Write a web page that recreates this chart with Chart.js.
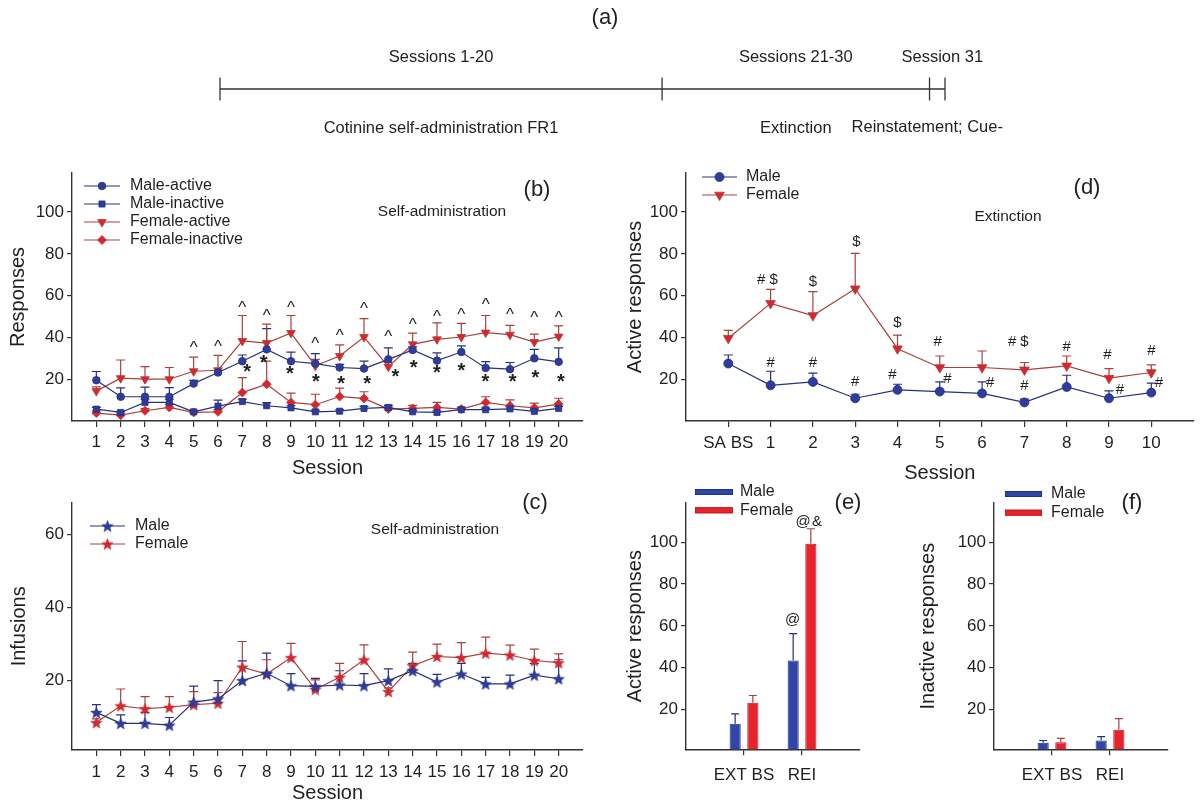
<!DOCTYPE html>
<html lang="en">
<head>
<meta charset="utf-8">
<title>Cotinine self-administration, extinction and reinstatement</title>
<script src="https://cdn.jsdelivr.net/npm/chart.js@4.4.1/dist/chart.umd.min.js"></script>
<style>
  html, body { margin: 0; padding: 0; background: #ffffff; }
  #page { position: relative; width: 1200px; height: 810px; overflow: hidden; background: #ffffff; }
  #page canvas { position: absolute; left: 0; top: 0; }
</style>
</head>
<body>
<div id="page">
  <canvas id="chart-a" width="1200" height="810"></canvas>
  <canvas id="chart-b" width="1200" height="810"></canvas>
  <canvas id="chart-c" width="1200" height="810"></canvas>
  <canvas id="chart-d" width="1200" height="810"></canvas>
  <canvas id="chart-e" width="1200" height="810"></canvas>
  <canvas id="chart-f" width="1200" height="810"></canvas>
</div>
<script>
/*
  ==================================================
  ====================== DATA ======================
  ==================================================
*/

// (a) protocol timeline (schematic positions along the bar)
const timelineTicks = [0, 20, 32.1, 32.8];
const stageTitles = ['Sessions 1-20', 'Sessions 21-30', 'Session 31'];
const stageNames = ['Cotinine self-administration FR1', 'Extinction', 'Reinstatement; Cue-'];

const yTickValues = [20, 40, 60, 80, 100];

// (b) lever responses, sessions 1-20 (mean and SEM)
const sessions = [1, 2, 3, 4, 5, 6, 7, 8, 9, 10, 11, 12, 13, 14, 15, 16, 17, 18, 19, 20];
const maleActive = [19.5, 11.6, 11.6, 11.6, 17.9, 23.2, 28.6, 34.3, 28.6, 27.5, 25.6, 25.1, 29.5, 34.0, 28.9, 33.0, 25.4, 24.8, 30.0, 28.3];
const maleActiveSem = [4.2, 4.3, 4.6, 4.4, 1.5, 1.0, 3.0, 9.9, 4.4, 4.7, 1.5, 3.6, 5.5, 1.5, 3.7, 3.0, 3.0, 3.2, 4.3, 6.7];
const maleInactive = [5.7, 4.1, 8.9, 8.9, 4.4, 7.1, 9.3, 7.3, 6.3, 4.4, 4.7, 6.0, 6.5, 4.4, 4.1, 5.4, 5.4, 5.8, 4.6, 6.0];
const maleInactiveSem = [0.8, 0.5, 1.5, 1.5, 0.6, 2.9, 1.2, 1.5, 1.0, 0.8, 0.6, 1.0, 1.0, 0.6, 0.6, 0.8, 0.8, 1.0, 0.8, 1.0];
const femaleActive = [14.3, 20.5, 20.0, 20.0, 23.8, 24.3, 38.3, 37.3, 42.1, 26.4, 31.1, 40.2, 26.0, 36.7, 39.1, 40.2, 42.3, 41.3, 37.8, 40.4];
const femaleActiveSem = [2.0, 8.7, 6.0, 5.6, 6.8, 7.1, 12.2, 9.1, 8.4, 3.1, 5.3, 8.8, 2.0, 5.4, 7.9, 6.5, 8.2, 4.5, 3.8, 5.1];
const femaleInactive = [3.8, 2.8, 4.9, 6.5, 4.1, 4.4, 13.6, 17.6, 8.9, 7.8, 11.7, 10.8, 5.7, 6.0, 6.5, 5.7, 8.9, 7.3, 6.3, 8.1];
const femaleInactiveSem = [1.0, 1.0, 1.0, 1.5, 1.0, 1.0, 7.2, 11.1, 4.4, 5.0, 4.0, 3.2, 1.0, 1.5, 2.4, 1.0, 2.7, 2.8, 2.3, 2.8];

// (b) significance marks ("^" female active, "*" male active)
const caretSessions = [5, 6, 7, 8, 9, 10, 11, 12, 13, 14, 15, 16, 17, 18, 19, 20];
const caretLevels = [37, 37.5, 56, 52, 56, 38.6, 42.7, 55.6, 42.3, 47.9, 51.5, 52.6, 57.4, 52.6, 51.3, 51.3];
const starX = [7.2, 7.88, 8.95, 10.02, 11.06, 12.13, 13.29, 14.04, 15, 16, 16.99, 18.11, 19.04, 20.09];
const starY = [25.2, 29.9, 24.5, 20.8, 19.5, 19.5, 23.2, 27.2, 24.8, 26, 20.8, 20.8, 22.7, 20.8];

// (c) infusions, sessions 1-20
const maleInfusions = [11.3, 8.3, 8.3, 7.8, 14.1, 15.0, 20.0, 22.0, 18.6, 18.4, 18.8, 18.6, 20.0, 22.7, 19.6, 21.8, 19.1, 19.1, 21.5, 20.5];
const maleInfusionsSem = [2.1, 2.3, 3.0, 2.1, 4.4, 5.0, 5.4, 5.5, 3.3, 2.2, 3.9, 3.3, 3.2, 2.0, 2.1, 2.9, 1.8, 2.4, 3.2, 5.2];
const femaleInfusions = [8.5, 13.1, 12.3, 12.7, 13.4, 13.8, 23.7, 21.8, 26.3, 17.6, 20.9, 25.7, 17.0, 24.1, 26.6, 26.3, 27.5, 27.0, 25.5, 24.9];
const femaleInfusionsSem = [1.0, 4.6, 3.3, 2.9, 3.6, 2.9, 7.0, 3.9, 3.9, 2.6, 3.8, 4.1, 1.0, 3.7, 3.4, 4.1, 4.4, 2.7, 3.1, 2.4];

// (d) extinction, active responses
const extinctionLabels = ['SA BS', '1', '2', '3', '4', '5', '6', '7', '8', '9', '10'];
const maleExtinction = [27.5, 17.1, 18.7, 10.9, 14.9, 14.1, 13.2, 8.9, 16.3, 10.9, 13.6];
const maleExtinctionSem = [4.1, 6.7, 4.2, 1.9, 2.7, 4.6, 5.5, 1.6, 5.6, 3.5, 4.5];
const femaleExtinction = [39.6, 56.3, 50.5, 63.3, 34.6, 25.6, 25.6, 24.5, 26.4, 20.5, 23.2];
const femaleExtinctionSem = [3.8, 6.7, 11.4, 16.9, 6.5, 5.5, 7.9, 3.5, 4.7, 4.6, 3.7];
const hashX = [1, 2, 3, 3.88, 5.18, 6.19, 7.0, 9.26, 10.18, 4.95, 6.71, 8.0, 8.96, 10.0, 0.78];
const hashY = [28.3, 28.3, 19.2, 22.4, 20.8, 18.7, 17.1, 15.2, 18.7, 38.3, 38.3, 35.9, 31.9, 33.8, 68.1];
const dollarX = [1.07, 2.0, 3.03, 4.0, 7.0];
const dollarY = [68.1, 66.9, 86, 47.4, 38.3];

// (e)/(f) extinction baseline vs reinstatement
const phases = ['EXT BS', 'REI'];
const maleActivePhase = [13.2, 43.4];
const maleActivePhaseSem = [4.7, 12.9];
const femaleActivePhase = [23.2, 99.2];
const femaleActivePhaseSem = [3.5, 7.2];
const maleInactivePhase = [4.1, 5.2];
const maleInactivePhaseSem = [1.1, 1.9];
const femaleInactivePhase = [4.4, 10.4];
const femaleInactivePhaseSem = [1.8, 5.3];
// "@" and "&" marks (x: 1 = EXT BS, 2 = REI)
const atX = [1.84, 2.02];
const atY = [63, 110];
const ampX = [2.26];
const ampY = [110];

/*
  ==================================================
  ===================== STYLE ======================
  ==================================================
*/

const FONT = '"Liberation Sans", Arial, Helvetica, sans-serif';
const ink = '#1f1f1f';
const axisCol = '#333333';
const navy = '#27307a', blue = '#2d3d9f';
const brick = '#a5423f', red = '#e2222b';
const barBlue = '#2f46a8', barBlueEdge = '#1f3088';
const barRed = '#e8232b', barRedEdge = '#bf1b21';

Chart.defaults.font.family = FONT;
Chart.defaults.color = ink;

let starImage = (fill, edge, size) => {
  let c = document.createElement('canvas');
  c.width = size; c.height = size;
  let g = c.getContext('2d');
  let cx = size / 2, cy = size / 2 + size * 0.05, R = size / 2 - 0.5, r = R * 0.42;
  g.beginPath();
  for (let i = 0; i < 10; i++) {
    let rad = i % 2 ? r : R;
    let a = -Math.PI / 2 + i * Math.PI / 5;
    g.lineTo(cx + rad * Math.cos(a), cy + rad * Math.sin(a));
  }
  g.closePath();
  g.fillStyle = fill; g.fill();
  g.lineWidth = 0.6; g.strokeStyle = edge; g.stroke();
  return c;
};
const blueStar = starImage(blue, navy, 13);
const redStar = starImage(red, brick, 13);

/*
  ==================================================
  ==================== PLUGINS =====================
  ==================================================
*/

// upper SEM whiskers taken from dataset.sem
const semBars = {
  id: 'semBars',
  beforeDatasetsDraw(chart) {
    let { ctx } = chart;
    let yScale = chart.scales.y;
    chart.data.datasets.forEach((ds, di) => {
      if (!ds.sem) return;
      let meta = chart.getDatasetMeta(di);
      ctx.save();
      ctx.strokeStyle = ds.semColor;
      ctx.lineWidth = 1.2;
      meta.data.forEach((el, i) => {
        let p = meta.controller.getParsed(i);
        let e = ds.sem[i];
        if (!p || p.y == null || !e) return;
        let y0 = yScale.getPixelForValue(p.y);
        let y1 = yScale.getPixelForValue(p.y + e);
        let half = (ds.capWidth || 9) / 2;
        ctx.beginPath();
        ctx.moveTo(el.x, y0); ctx.lineTo(el.x, y1);
        ctx.moveTo(el.x - half, y1); ctx.lineTo(el.x + half, y1);
        ctx.stroke();
      });
      ctx.restore();
    });
  }
};
Chart.register(semBars);

let drawMarker = (ctx, style, r, rot, x, y) => {
  ctx.save();
  ctx.translate(x, y);
  ctx.rotate((rot || 0) * Math.PI / 180);
  if (typeof style === 'object') {
    ctx.drawImage(style, -style.width / 2, -style.height / 2);
    ctx.restore();
    return;
  }
  ctx.beginPath();
  if (style === 'circle') ctx.arc(0, 0, r, 0, 2 * Math.PI);
  else if (style === 'rect') { let s = r * Math.SQRT1_2; ctx.rect(-s, -s, 2 * s, 2 * s); }
  else if (style === 'rectRot') { ctx.moveTo(0, -r); ctx.lineTo(r, 0); ctx.lineTo(0, r); ctx.lineTo(-r, 0); ctx.closePath(); }
  else if (style === 'triangle') { ctx.moveTo(0, -r); ctx.lineTo(r * 0.866, r * 0.5); ctx.lineTo(-r * 0.866, r * 0.5); ctx.closePath(); }
  ctx.fill();
  ctx.stroke();
  ctx.restore();
};

// free text; x/y in page pixels, or in data units when xData / yData
let textLayer = (items) => ({
  id: 'textLayer',
  afterDraw(chart) {
    let { ctx } = chart;
    items.forEach(n => {
      let x = n.xData ? chart.scales.x.getPixelForValue(n.x) : n.x;
      let y = n.yData ? chart.scales.y.getPixelForValue(n.y) : n.y;
      x += n.dx || 0;
      ctx.save();
      ctx.font = (n.bold ? 'bold ' : '') + n.size + 'px ' + FONT;
      ctx.fillStyle = ink;
      ctx.textAlign = 'center';
      ctx.textBaseline = 'alphabetic';
      let m = ctx.measureText(n.text);
      ctx.fillText(n.text, x, y + (m.actualBoundingBoxAscent - m.actualBoundingBoxDescent) / 2);
      ctx.restore();
    });
  }
});

// small in-plot key
let keyLayer = (o) => ({
  id: 'keyLayer',
  afterDraw(chart) {
    let { ctx } = chart;
    chart.data.datasets.forEach((ds, i) => {
      let y = o.y + i * o.row;
      ctx.save();
      if (o.bars) {
        ctx.fillStyle = ds.backgroundColor;
        ctx.fillRect(o.x, y - 3, o.len, 6);
        ctx.strokeStyle = ds.borderColor;
        ctx.lineWidth = 1;
        ctx.strokeRect(o.x + 0.5, y - 2.5, o.len - 1, 5);
      } else {
        ctx.strokeStyle = ds.borderColor;
        ctx.lineWidth = ds.borderWidth;
        ctx.beginPath(); ctx.moveTo(o.x, y); ctx.lineTo(o.x + o.len, y); ctx.stroke();
        ctx.fillStyle = ds.pointBackgroundColor;
        ctx.strokeStyle = ds.pointBorderColor;
        ctx.lineWidth = ds.pointBorderWidth;
        drawMarker(ctx, ds.pointStyle, ds.pointRadius, ds.pointRotation, o.x + o.len / 2, y);
      }
      ctx.fillStyle = ink;
      ctx.font = o.size + 'px ' + FONT;
      ctx.textAlign = 'left';
      ctx.textBaseline = 'middle';
      ctx.fillText(ds.label, o.tx, y);
      ctx.restore();
    });
  }
});

/*
  ==================================================
  ===================== AXES =======================
  ==================================================
*/

let place = (box, area) => ({
  padding: { left: box.left, top: area.top, right: 1200 - area.right, bottom: 810 - box.bottom },
  fitX: s => { s.height = box.bottom - area.bottom; },
  fitY: s => { s.width = area.left - box.left; }
});

const axisBorder = { display: true, color: axisCol, width: 1.4 };
let tickMarks = (len) => ({ display: true, drawOnChartArea: false, drawTicks: true, tickLength: len, color: axisCol, lineWidth: 1.2 });

let valueAxis = (min, max, fit, title, titleGap) => ({
  type: 'linear', min, max,
  afterBuildTicks: s => { s.ticks = yTickValues.filter(v => v > min && v <= max).map(v => ({ value: v })); },
  afterFit: fit,
  border: axisBorder,
  grid: tickMarks(5),
  ticks: { font: { size: 17 }, color: ink, padding: 3 },
  title: { display: true, text: title, color: ink, font: { size: 20 }, padding: { top: titleGap, bottom: 0 } }
});

let sessionAxis = (fit, tickPad, titleGap) => ({
  type: 'linear', min: 0, max: 21,
  afterBuildTicks: s => { s.ticks = sessions.map(v => ({ value: v })); },
  afterFit: fit,
  border: axisBorder,
  grid: tickMarks(6),
  ticks: { font: { size: 17 }, color: ink, padding: tickPad, maxRotation: 0, autoSkip: false },
  title: { display: true, text: 'Session', color: ink, font: { size: 20 }, padding: { top: 0, bottom: titleGap } }
});

let phaseAxis = (fit) => ({
  type: 'category', offset: false,
  afterFit: fit,
  border: axisBorder,
  grid: {
    display: true, drawOnChartArea: false, drawTicks: true, tickLength: 6, offset: false, lineWidth: 1.2,
    color: c => (c.index > 0 && c.index < c.scale.ticks.length - 1) ? axisCol : 'rgba(0,0,0,0)',
    tickColor: c => (c.index > 0 && c.index < c.scale.ticks.length - 1) ? axisCol : 'rgba(0,0,0,0)'
  },
  ticks: { font: { size: 17 }, color: ink, padding: 9.5, maxRotation: 0, autoSkip: false }
});

let series = (label, xs, ys, sem, color, fill, style, radius, rot) => ({
  label,
  data: xs.map((x, i) => ({ x, y: ys[i] })),
  sem, semColor: color,
  borderColor: color, borderWidth: 1.2, tension: 0, clip: false,
  pointStyle: style, pointRadius: radius, pointRotation: rot || 0,
  pointBackgroundColor: fill, pointBorderColor: color, pointBorderWidth: 0.8
});

let pad = a => [null, ...a, null];

let bars = (label, values, sem, fill, edge, errCol) => ({
  label, data: pad(values), sem: pad(sem), semColor: errCol, capWidth: 8,
  backgroundColor: fill, borderColor: edge, borderWidth: 1,
  categoryPercentage: 0.61, barPercentage: 0.63
});

const base = {
  responsive: false, animation: false, devicePixelRatio: 1, events: [],
  plugins: { legend: { display: false }, tooltip: { enabled: false } }
};

/*
  ==================================================
  ================== (a) TIMELINE ==================
  ==================================================
*/

let mid = i => (timelineTicks[i] + timelineTicks[i + 1]) / 2;

new Chart(document.getElementById('chart-a'), {
  type: 'scatter',
  data: {
    datasets: [
      {
        data: [{ x: timelineTicks[0], y: 0 }, { x: timelineTicks[timelineTicks.length - 1], y: 0 }],
        showLine: true, borderColor: axisCol, borderWidth: 1.3, pointRadius: 0, clip: false
      },
      {
        data: timelineTicks.map(x => ({ x, y: 0 })),
        showLine: false, pointStyle: 'line', pointRotation: 90, pointRadius: 11.5,
        pointBorderColor: axisCol, pointBorderWidth: 1.3, clip: false
      }
    ]
  },
  options: {
    ...base,
    layout: { padding: { left: 220, right: 255, top: 78, bottom: 710 } },
    scales: {
      x: { type: 'linear', display: false, min: timelineTicks[0], max: timelineTicks[timelineTicks.length - 1] },
      y: { type: 'linear', display: false, min: -1, max: 1 }
    }
  },
  plugins: [textLayer([
    { text: '(a)', x: 605, y: 18, size: 22 },
    ...stageTitles.map((t, i) => ({ text: t, x: mid(i), xData: true, y: 56, size: 16.5, dx: i === 2 ? 5 : 0 })),
    ...stageNames.map((t, i) => ({ text: t, x: mid(i), xData: true, y: 127, size: 16.5, dx: i === 2 ? -10 : 0 }))
  ])]
});

/*
  ==================================================
  ============ (b) SELF-ADMINISTRATION =============
  ==================================================
*/

let pB = place({ left: 0, bottom: 480 }, { left: 72, top: 173, right: 583, bottom: 421 });

new Chart(document.getElementById('chart-b'), {
  type: 'line',
  data: {
    datasets: [
      series('Male-active', sessions, maleActive, maleActiveSem, navy, blue, 'circle', 3.8),
      series('Male-inactive', sessions, maleInactive, maleInactiveSem, navy, blue, 'rect', 4.3),
      series('Female-active', sessions, femaleActive, femaleActiveSem, brick, red, 'triangle', 5, 180),
      series('Female-inactive', sessions, femaleInactive, femaleInactiveSem, brick, red, 'rectRot', 4.5)
    ]
  },
  options: {
    ...base,
    layout: { padding: pB.padding },
    scales: {
      x: sessionAxis(pB.fitX, 5.5, 0),
      y: valueAxis(0, 118.7, pB.fitY, 'Responses', 6)
    }
  },
  plugins: [
    keyLayer({ x: 84, len: 36, y: 186, row: 18, tx: 130, size: 16 }),
    textLayer([
      { text: '(b)', x: 537, y: 190, size: 22 },
      { text: 'Self-administration', x: 442, y: 210, size: 15.5 },
      ...caretSessions.map((s, i) => ({ text: '^', x: s, y: caretLevels[i], xData: true, yData: true, size: 17 })),
      ...starX.map((x, i) => ({ text: '*', x, y: starY[i], xData: true, yData: true, size: 20, bold: true }))
    ])
  ]
});

/*
  ==================================================
  =================== (c) INFUSIONS ================
  ==================================================
*/

let pC = place({ left: 0, bottom: 810 }, { left: 72, top: 502.7, right: 583, bottom: 750 });

new Chart(document.getElementById('chart-c'), {
  type: 'line',
  data: {
    datasets: [
      series('Male', sessions, maleInfusions, maleInfusionsSem, navy, blue, blueStar, 6.5),
      series('Female', sessions, femaleInfusions, femaleInfusionsSem, brick, red, redStar, 6.5)
    ]
  },
  options: {
    ...base,
    layout: { padding: pC.padding },
    scales: {
      x: sessionAxis(pC.fitX, 6.5, 5),
      y: valueAxis(1, 68.7, pC.fitY, 'Infusions', 7.5)
    }
  },
  plugins: [
    keyLayer({ x: 90, len: 35, y: 526, row: 18, tx: 135, size: 16 }),
    textLayer([
      { text: '(c)', x: 535, y: 503, size: 22 },
      { text: 'Self-administration', x: 435, y: 528, size: 15.5 }
    ])
  ]
});

/*
  ==================================================
  =================== (d) EXTINCTION ===============
  ==================================================
*/

let pD = place({ left: 600, bottom: 485 }, { left: 686, top: 173, right: 1196.7, bottom: 421 });
let extIdx = extinctionLabels.map((_, i) => i);

new Chart(document.getElementById('chart-d'), {
  type: 'line',
  data: {
    datasets: [
      series('Male', extIdx, maleExtinction, maleExtinctionSem, navy, blue, 'circle', 4.5),
      series('Female', extIdx, femaleExtinction, femaleExtinctionSem, brick, red, 'triangle', 5.6, 180)
    ]
  },
  options: {
    ...base,
    layout: { padding: pD.padding },
    scales: {
      x: {
        type: 'linear', min: -1, max: extinctionLabels.length,
        afterBuildTicks: s => { s.ticks = extIdx.map(v => ({ value: v })); },
        afterFit: pD.fitX,
        border: axisBorder,
        grid: tickMarks(6),
        ticks: { font: { size: 17 }, color: ink, padding: 5.8, maxRotation: 0, autoSkip: false, callback: (v, i) => extinctionLabels[i] },
        title: { display: true, text: 'Session', color: ink, font: { size: 20 }, padding: { top: 0, bottom: 0 } }
      },
      y: valueAxis(0, 118.7, pD.fitY, 'Active responses', 23)
    }
  },
  plugins: [
    keyLayer({ x: 702, len: 35, y: 177, row: 18, tx: 746, size: 16 }),
    textLayer([
      { text: '(d)', x: 1087, y: 188, size: 22 },
      { text: 'Extinction', x: 1008, y: 215, size: 15.5 },
      ...hashX.map((x, i) => ({ text: '#', x, y: hashY[i], xData: true, yData: true, size: 15 })),
      ...dollarX.map((x, i) => ({ text: '$', x, y: dollarY[i], xData: true, yData: true, size: 15 }))
    ])
  ]
});

/*
  ==================================================
  ============= (e) ACTIVE, EXT vs REI =============
  ==================================================
*/

let pE = place({ left: 600, bottom: 800 }, { left: 686, top: 503, right: 860, bottom: 749.3 });

new Chart(document.getElementById('chart-e'), {
  type: 'bar',
  data: {
    labels: pad(phases).map(l => l || ''),
    datasets: [
      bars('Male', maleActivePhase, maleActivePhaseSem, barBlue, barBlueEdge, navy),
      bars('Female', femaleActivePhase, femaleActivePhaseSem, barRed, barRedEdge, brick)
    ]
  },
  options: {
    ...base,
    layout: { padding: pE.padding },
    scales: {
      x: phaseAxis(pE.fitX),
      y: valueAxis(1, 118.7, pE.fitY, 'Active responses', 23)
    }
  },
  plugins: [
    keyLayer({ bars: true, x: 695, len: 38, y: 492, row: 18.3, tx: 740, size: 16 }),
    textLayer([
      { text: '(e)', x: 848, y: 503, size: 22 },
      ...atX.map((x, i) => ({ text: '@', x, y: atY[i], xData: true, yData: true, size: 15 })),
      ...ampX.map((x, i) => ({ text: '&', x, y: ampY[i], xData: true, yData: true, size: 15 }))
    ])
  ]
});

/*
  ==================================================
  ============ (f) INACTIVE, EXT vs REI ============
  ==================================================
*/

let pF = place({ left: 880, bottom: 800 }, { left: 994, top: 503, right: 1168, bottom: 749.3 });

new Chart(document.getElementById('chart-f'), {
  type: 'bar',
  data: {
    labels: pad(phases).map(l => l || ''),
    datasets: [
      bars('Male', maleInactivePhase, maleInactivePhaseSem, barBlue, barBlueEdge, navy),
      bars('Female', femaleInactivePhase, femaleInactivePhaseSem, barRed, barRedEdge, brick)
    ]
  },
  options: {
    ...base,
    layout: { padding: pF.padding },
    scales: {
      x: phaseAxis(pF.fitX),
      y: valueAxis(1, 118.7, pF.fitY, 'Inactive responses', 36)
    }
  },
  plugins: [
    keyLayer({ bars: true, x: 1005, len: 37, y: 494, row: 18.7, tx: 1051, size: 16 }),
    textLayer([
      { text: '(f)', x: 1132, y: 503, size: 22 }
    ])
  ]
});
</script>
</body>
</html>
